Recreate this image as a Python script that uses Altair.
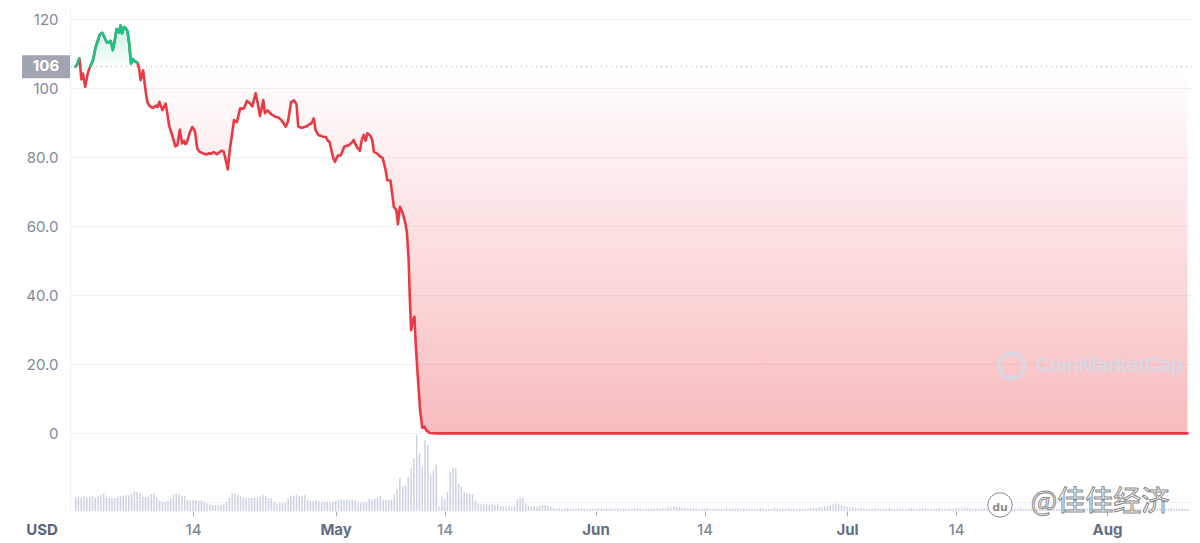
import altair as alt
import numpy as np
import pandas as pd

# ---------------- data ----------------
START = pd.Timestamp("2022-04-01T00:00:00Z")

# price: days since 2022-04-01 00:00 UTC, and price in USD
price_days = [
    -1.03, -0.85, -0.56, -0.32, -0.14, 0.13, 0.45, 0.74, 1.04, 1.39,
    1.87, 2.16, 2.46, 2.70, 2.93, 3.17, 3.43, 3.64, 3.88, 4.17,
    4.35, 4.53, 4.74, 4.94, 5.18, 5.38, 5.51, 5.61, 5.80, 6.06,
    6.36, 6.56, 6.74, 7.04, 7.34, 7.54, 7.78, 8.05, 8.31, 8.55,
    8.76, 8.98, 9.34, 9.73, 9.91, 10.14, 10.52, 10.89, 11.12, 11.42,
    11.68, 11.91, 12.09, 12.30, 12.60, 12.90, 13.22, 13.49, 13.77, 14.16,
    14.55, 14.87, 15.11, 15.46, 15.85, 16.37, 16.64, 16.86, 17.14, 17.39,
    17.62, 17.88, 18.22, 18.62, 19.01, 19.21, 19.40, 19.80, 20.07, 20.46,
    20.70, 20.98, 21.37, 21.57, 21.88, 22.32, 22.79, 23.14, 23.53, 23.77,
    24.05, 24.33, 24.68, 25.04, 25.33, 25.54, 25.74, 26.02, 26.54, 26.89,
    27.13, 27.40, 27.60, 27.93, 28.17, 28.50, 28.85, 29.09, 29.29, 29.50,
    29.70, 29.92, 30.26, 30.63, 31.03, 31.30, 31.62, 32.01, 32.16, 32.36,
    32.60, 32.90, 33.11, 33.35, 33.58, 33.78, 34.10, 34.35, 34.57, 34.96,
    35.28, 35.61, 35.95, 36.15, 36.54, 36.74, 36.94, 37.25, 37.43, 37.67,
    37.92, 38.31, 38.51, 38.71, 38.83, 39.00, 39.22, 39.40, 39.55, 39.79,
    40.08, 40.33, 40.56, 40.88, 41.27,
    42.0, 45.0, 50.0, 55.0, 60.0, 65.0, 70.0, 75.0, 80.0, 85.0,
    90.0, 95.0, 100.0, 105.0, 110.0, 115.0, 120.0, 125.0, 131.6,
]
price_usd = [
    106.3, 106.8, 108.7, 102.6, 104.3, 100.5, 104.5, 106.4, 108.0, 112.0,
    115.6, 116.1, 114.6, 113.4, 113.3, 113.8, 111.1, 113.6, 117.2, 116.2,
    118.2, 115.9, 117.8, 117.5, 116.6, 113.0, 109.5, 107.2, 108.5, 107.8,
    107.5, 105.8, 102.4, 105.2, 99.2, 96.1, 95.0, 94.5, 94.4, 95.0,
    94.6, 96.1, 93.7, 95.6, 93.0, 89.2, 86.3, 83.2, 83.5, 88.0,
    84.0, 84.8, 83.8, 84.6, 87.2, 88.8, 87.6, 82.6, 81.6, 81.2,
    80.8, 81.2, 81.0, 81.5, 80.9, 81.9, 81.7, 79.6, 76.5, 82.5,
    86.2, 90.8, 90.2, 94.2, 94.1, 95.0, 96.4, 95.6, 94.8, 98.6,
    95.8, 92.0, 96.6, 92.8, 93.6, 92.5, 91.8, 91.6, 90.8, 90.0,
    88.9, 90.5, 96.0, 96.5, 95.5, 89.0, 88.7, 88.6, 89.0, 89.6,
    89.9, 91.3, 87.9, 86.5, 86.3, 86.0, 85.9, 84.8, 84.4, 82.1,
    80.0, 78.7, 80.5, 80.6, 83.1, 83.3, 83.6, 84.5, 85.0, 83.8,
    82.8, 81.9, 85.0, 86.5, 84.8, 87.0, 86.4, 85.2, 81.6, 81.1,
    80.3, 79.8, 76.5, 73.4, 73.2, 69.6, 65.7, 64.7, 60.6, 65.7,
    64.4, 61.1, 58.0, 50.2, 40.6, 29.9, 32.8, 33.8, 26.1, 16.8,
    6.7, 1.6, 2.0, 0.7, 0.1,
    0.00035, 0.00022, 0.00018, 0.00012, 0.00010, 0.00011, 0.00009, 0.00010, 0.00011, 0.00010,
    0.00009, 0.00009, 0.00010, 0.00011, 0.00012, 0.00011, 0.00010, 0.00010, 0.00010,
]

# volume (relative, peak = 100), three bars per day starting 2022-03-31
vol_rel = [
    18, 19, 18,  19, 18, 19,  20, 18, 19,  21, 23, 19,  17, 16, 17,
    18, 20, 20,  21, 20, 22,  26, 25, 23,  19, 18, 19,  22, 24, 18,
    13, 12, 12,  13, 16, 21,  23, 22, 20,  20, 15, 14,  14, 14, 13,
    14, 12, 10,  9, 8, 8,     7, 8, 9,     12, 18, 23,  23, 21, 20,
    18, 17, 17,  17, 18, 17,  19, 21, 19,  17, 17, 12,  10, 10, 10,
    11, 16, 20,  20, 21, 19,  20, 21, 15,  13, 13, 14,  13, 12, 12,
    12, 11, 12,  13, 14, 15,  14, 15, 14,  15, 14, 12,  11, 11, 12,
    16, 15, 16,  17, 20, 15,  14, 14, 15,  22, 28, 43,  32, 34, 45,
    56, 69, 100, 76, 58, 93,  87, 47, 54,  61, 6, 19,   16, 25, 52,
    57, 56, 36,  32, 25, 23,  23, 22, 14,  10, 9, 9,    9, 8, 9,
    8, 9, 7,     6, 6, 6,     5, 6, 15,    17, 17, 10,  7, 6, 6,
    6, 7, 8,     8, 7, 5,     4, 3, 4,
    3, 3, 4,  3, 3, 3,  4, 3, 3,  3, 3, 3,  3, 4, 3,  3, 3, 3,  3, 3, 4,
    3, 3, 3,  3, 3, 3,  4, 3, 3,  3, 3, 3,  3, 4, 3,  4, 4, 5,
    5, 6, 5,  5, 4, 4,  3, 3, 4,
    3, 3, 3,  3, 4, 3,  3, 3, 3,  3, 3, 4,  3, 3, 3,  4, 3, 3,  3, 3, 3,
    3, 3, 4,  3, 3, 3,  3, 4, 3,  3, 3, 3,  4, 3, 3,  3, 3, 3,  3, 3, 4,
    4, 4, 5,  5, 6, 7,  8, 9, 10,  9, 8, 7,  6, 5, 5,  4, 4, 4,
    3, 3, 3,  3, 4, 3,  3, 3, 3,  4, 3, 3,  3, 3, 3,  3, 3, 4,  3, 3, 3,
    3, 4, 3,  3, 3, 3,  4, 3, 3,  3, 3, 3,
    4, 4, 5,  5, 4, 4,
    3, 3, 3,  3, 4, 3,  3, 3, 3,  4, 3, 3,  3, 3, 3,  3, 3, 4,  3, 3, 3,
    3, 4, 3,  3, 3, 3,  4, 3, 3,  3, 3, 3,  3, 3, 4,  3, 3, 3,  3, 4, 3,
    3, 3, 3,  4, 3, 3,  3, 3, 3,  3, 3, 4,  3, 3, 3,  3, 4, 3,  3, 3, 3,
    4, 3, 3,  3, 3, 3,  3, 3, 4,  3, 3, 3,  3, 3, 3,
]

tick_dates = ["2022-04-14", "2022-05-01", "2022-05-14", "2022-06-01",
              "2022-06-14", "2022-07-01", "2022-07-14", "2022-08-01"]
y_ticks = [0, 20, 40, 60, 80, 100, 120]
currency_label = ["USD"]
brand_label = ["CoinMarketCap"]
wm_label = ["@佳佳经济"]
wm_icon_label = ["du"]

# ---------------- tables ----------------
def iso(ts):
    return ts.strftime("%Y-%m-%dT%H:%M:%SZ")

base = price_usd[0]
pdf = pd.DataFrame({
    "t": [iso(START + pd.Timedelta(days=d)) for d in price_days],
    "price": price_usd,
})
pdf["base"] = base
pdf["lo"] = np.minimum(pdf["price"], base)
pdf["hi"] = np.maximum(pdf["price"], base)
above = pdf["price"] >= base
pdf["seg"] = (above != above.shift()).cumsum()
green_df = pdf[above]

vt = pd.date_range(START - pd.Timedelta(days=1), periods=len(vol_rel), freq="8h")
vdf = pd.DataFrame({"t": [iso(t) for t in vt], "vol": vol_rel})

# ---------------- styling ----------------
RED = "#ea3943"
GREEN = "#16c784"
GRID = "#eff2f5"
LABEL = "#808a9d"
FONT = "Inter"

def dt(s, hours=0):
    ts = pd.Timestamp(s)
    return alt.DateTime(year=ts.year, month=ts.month, date=ts.day, hours=hours, utc=True)

x_scale = alt.Scale(type="utc", domain=[dt("2022-03-30", 22), dt("2022-08-10", 13)])
x_axis = alt.Axis(
    values=[dt(s) for s in tick_dates],
    labelExpr="utcdate(datum.value) == 1 ? utcFormat(datum.value, '%b') : utcFormat(datum.value, '%d')",
    labelFontWeight={"condition": {"test": "utcdate(datum.value) == 1", "value": 700}, "value": 500},
    labelColor={"condition": {"test": "utcdate(datum.value) == 1", "value": "#616e85"}, "value": LABEL},
    labelFont=FONT, labelFontSize=15, labelPadding=6,
    ticks=True, tickSize=5, tickColor="#a6b0c3", domain=False, grid=False, title=None,
)
x_enc = alt.X("t:T", scale=x_scale, axis=x_axis)

def pscale():
    return alt.Scale(domain=[-22.5, 123.3], nice=False, zero=False)

y_axis = alt.Axis(
    orient="left", values=y_ticks, grid=True, gridColor=GRID, gridWidth=1,
    domain=True, domainColor=GRID, ticks=False, labelPadding=12,
    labelFont=FONT, labelFontSize=15, labelColor=LABEL, title=None,
    labelExpr="datum.value == 0 ? '0' : (datum.value >= 100 ? format(datum.value, 'd') : format(datum.value, '.1f'))",
)

# ---------------- volume layer ----------------
vol_bars = alt.Chart(vdf).mark_bar(size=1.5, color="#cbd2e1").encode(
    x=x_enc,
    y=alt.Y("vol:Q", scale=alt.Scale(domain=[0, 662], nice=False),
            axis=alt.Axis(orient="right", values=[12], grid=True, gridColor=GRID,
                          labels=False, ticks=False, domain=False, title=None)),
)

# ---------------- price layers ----------------
red_grad = alt.Gradient(
    gradient="linear",
    stops=[alt.GradientStop(color="rgba(234,57,67,0.0)", offset=0),
           alt.GradientStop(color="rgba(234,57,67,0.34)", offset=1)],
    x1=0, x2=0, y1=0, y2=1,
)
green_grad = alt.Gradient(
    gradient="linear",
    stops=[alt.GradientStop(color="rgba(22,199,132,0.22)", offset=0),
           alt.GradientStop(color="rgba(22,199,132,0.02)", offset=1)],
    x1=0, x2=0, y1=0, y2=1,
)

red_area = alt.Chart(pdf).mark_area(color=red_grad).encode(
    x=x_enc, y=alt.Y("lo:Q", scale=pscale(), axis=y_axis), y2="base:Q")
green_area = alt.Chart(pdf).mark_area(color=green_grad).encode(
    x=x_enc, y=alt.Y("hi:Q", scale=pscale(), axis=None), y2="base:Q")

base_df = pd.DataFrame({"v": [base], "label": [str(int(round(base)))]})
base_rule = alt.Chart(base_df).mark_rule(color="#a6b0c3", strokeDash=[1, 4], strokeWidth=1).encode(
    y=alt.Y("v:Q", scale=pscale(), axis=None))

red_line = alt.Chart(pdf).mark_line(color=RED, strokeWidth=2.6, strokeJoin="round", strokeCap="round").encode(
    x=x_enc, y=alt.Y("price:Q", scale=pscale(), axis=None))
green_line = alt.Chart(green_df).mark_line(color=GREEN, strokeWidth=2.6, strokeJoin="round", strokeCap="round").encode(
    x=x_enc, y=alt.Y("price:Q", scale=pscale(), axis=None), detail="seg:N")

base_box = alt.Chart(base_df).mark_rect(color="#a0a5b1", yOffset=-11.5, y2Offset=11.5).encode(
    x=alt.value(-48), x2=alt.value(0),
    y=alt.Y("v:Q", scale=pscale(), axis=None), y2="v:Q")
base_text = alt.Chart(base_df).mark_text(
    color="white", font=FONT, fontSize=15, fontWeight="bold", align="center", baseline="middle", dy=-0.5
).encode(x=alt.value(-24), y=alt.Y("v:Q", scale=pscale(), axis=None), text="label:N")

usd_text = alt.Chart(pd.DataFrame({"label": currency_label})).mark_text(
    color="#58667e", font=FONT, fontSize=15, fontWeight="bold", align="center", baseline="middle"
).encode(x=alt.value(-28), y=alt.value(522), text="label:N")

brand_logo = alt.Chart(pd.DataFrame({"label": brand_label})).mark_point(
    shape="circle", filled=False, size=620, strokeWidth=3.5, color="#d3dbe8", opacity=0.9
).encode(x=alt.value(942), y=alt.value(358))
brand_text = alt.Chart(pd.DataFrame({"label": brand_label})).mark_text(
    color="#d3dbe8", opacity=0.9, font=FONT, fontSize=19.5, fontWeight=600, align="left", baseline="middle"
).encode(x=alt.value(966), y=alt.value(358), text="label:N")

wm_icon = alt.Chart(pd.DataFrame({"label": wm_icon_label})).mark_point(
    shape="circle", filled=True, size=600, fill="white", stroke="#8c8c8c", strokeWidth=1, opacity=1
).encode(x=alt.value(930), y=alt.value(497))
wm_icon_text = alt.Chart(pd.DataFrame({"label": wm_icon_label})).mark_text(
    color="#8c8c8c", font="DejaVu Sans", fontSize=11, fontWeight="bold", align="center", baseline="middle"
).encode(x=alt.value(930), y=alt.value(500), text="label:N")
wm_text = alt.Chart(pd.DataFrame({"label": wm_label})).mark_text(
    fill="white", stroke="#8a8a8a", strokeWidth=1, font="Noto Sans CJK SC", fontSize=28,
    align="center", baseline="middle"
).encode(x=alt.value(1030), y=alt.value(495), text="label:N")

chart = alt.layer(
    vol_bars, red_area, green_area, base_rule, red_line, green_line,
    base_box, base_text, usd_text, brand_logo, brand_text, wm_icon, wm_icon_text, wm_text,
).resolve_scale(y="independent").properties(
    width=1122, height=503,
    padding={"left": 62, "top": 0, "right": 0, "bottom": 32},
    autosize=alt.AutoSizeParams(type="none"),
    background="white",
).configure_view(strokeWidth=0)

chart.save("out.html", embed_options={"renderer": "svg", "actions": False})
